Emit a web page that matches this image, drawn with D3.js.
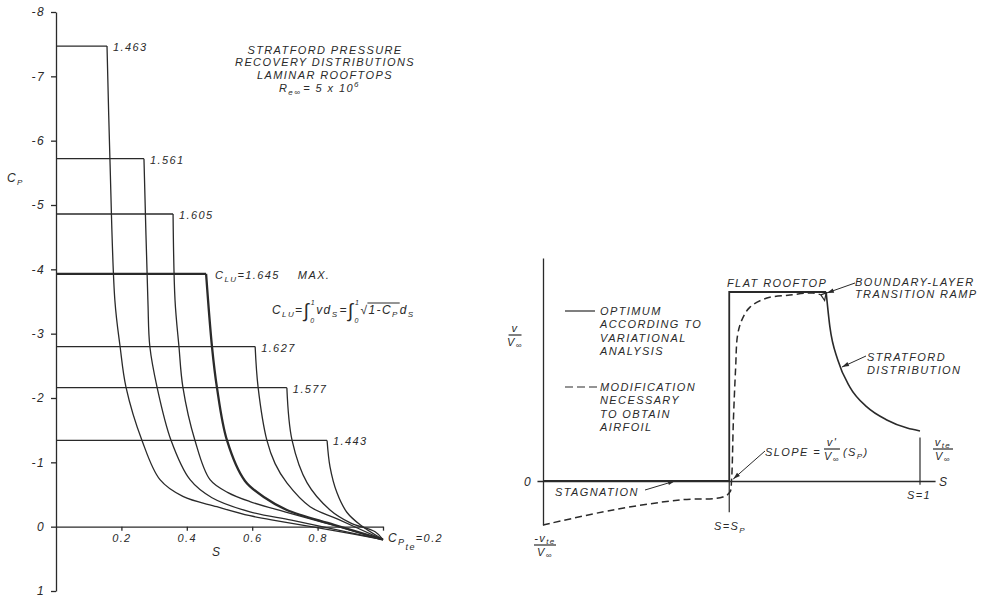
<!DOCTYPE html>
<html>
<head>
<meta charset="utf-8">
<script src="https://cdn.jsdelivr.net/npm/d3@7"></script>
<style>
body { margin: 0; background: #fff; }
svg text { font-family: "Liberation Sans", Arial, sans-serif; font-style: italic; font-size: 11px; letter-spacing: 1.4px; fill: #2a2a2a; }
.axis path, .axis line { stroke: #2a2a2a; stroke-width: 1.3; }
.curve { fill: none; stroke: #2a2a2a; stroke-width: 1.3; }
.curve.max { stroke-width: 2.3; }
</style>
</head>
<body>
<svg id="chart" width="986" height="598"></svg>
<script>
// ---- left chart: Stratford recovery distributions ----
var cpTicks = [-8, -7, -6, -5, -4, -3, -2, -1, 0, 1];
var sTicks = [0.2, 0.4, 0.6, 0.8, 1];
var cluValues = [1.463, 1.561, 1.605, 1.645, 1.627, 1.577, 1.443];
var rooftopCp = [-7.47, -5.72, -4.86, -3.93, -2.80, -2.16, -1.34];
var rooftopEnd = [0.156, 0.269, 0.358, 0.459, 0.609, 0.706, 0.829];
var maxIndex = 3;
var cpTe = 0.2;
// recovery points [s, Cp] after the rooftop corner
var recovery = [
  [[0.165, -5.70], [0.18, -3.52], [0.196, -2.80], [0.214, -2.17], [0.263, -1.34], [0.318, -0.73], [0.388, -0.47], [0.492, -0.31], [0.593, -0.17], [0.69, -0.08], [0.85, 0.06], [1, cpTe]],
  [[0.281, -3.52], [0.287, -2.80], [0.309, -2.17], [0.352, -1.34], [0.41, -0.73], [0.477, -0.45], [0.593, -0.23], [0.72, -0.10], [0.86, 0.05], [1, cpTe]],
  [[0.364, -3.52], [0.376, -2.80], [0.388, -2.17], [0.425, -1.34], [0.471, -0.73], [0.526, -0.53], [0.593, -0.39], [0.7, -0.23], [0.85, -0.02], [1, cpTe]],
  [[0.477, -2.80], [0.492, -2.17], [0.523, -1.34], [0.578, -0.71], [0.639, -0.45], [0.706, -0.26], [0.85, -0.03], [1, cpTe]],
  [[0.618, -2.17], [0.645, -1.34], [0.67, -0.98], [0.706, -0.68], [0.777, -0.31], [0.86, -0.12], [1, cpTe]],
  [[0.722, -1.34], [0.768, -0.68], [0.838, -0.26], [0.9, -0.06], [0.976, 0.08], [1, cpTe]],
  [[0.838, -0.93], [0.859, -0.53], [0.89, -0.22], [0.93, -0.03], [1, cpTe]]
];

// ---- right chart: velocity distribution sketch ----
var sp = 0.494;
var vTe = 0.265;
var optimum = [[0, 0], [sp, 0], [sp, 1], [0.751, 1]];
var stratford = [[0.751, 1], [0.761, 0.815], [0.782, 0.64], [0.814, 0.497], [0.859, 0.392], [0.912, 0.323], [0.966, 0.28], [1, vTe]];
var modified = [[0, -0.233], [0.186, -0.153], [0.363, -0.10], [0.477, -0.085], [0.496, -0.058], [0.5, 0], [0.505, 0.32], [0.511, 0.6], [0.516, 0.77], [0.527, 0.85], [0.549, 0.92], [0.594, 0.968], [0.655, 0.984], [0.716, 0.995], [0.737, 0.985]];

var svg = d3.select("#chart");

// scales
var xL = d3.scaleLinear().domain([0, 1]).range([56, 383]);
var yL = d3.scaleLinear().domain([-8, 1]).range([12, 591]);

// y axis
svg.append("g")
  .attr("class", "axis")
  .attr("transform", "translate(" + xL(0) + ",0)")
  .call(d3.axisLeft(yL).tickValues(cpTicks).tickFormat(String).tickSize(5).tickPadding(6).tickSizeOuter(0))
  .selectAll("text").style("font-size", "12px");

// x axis
svg.append("g")
  .attr("class", "axis")
  .attr("transform", "translate(0," + yL(0) + ")")
  .call(d3.axisBottom(xL).tickValues(sTicks).tickFormat(function(d) { return d === 1 ? "" : d3.format(".1f")(d); }).tickSize(4).tickPadding(4).tickSizeOuter(0))
  .selectAll("text").style("font-size", "11px");

var lineL = d3.line().x(function(d) { return xL(d[0]); }).y(function(d) { return yL(d[1]); });
var curveL = d3.line().x(function(d) { return xL(d[0]); }).y(function(d) { return yL(d[1]); }).curve(d3.curveCatmullRom.alpha(0.5));

// helper: run of text pieces laid side by side
function runText(g, x, y, parts) {
  var cx = x;
  parts.forEach(function(p) {
    var t = g.append("text").attr("x", cx).attr("y", y + (p.dy || 0)).style("font-size", (p.size || 11) + "px").text(p.t);
    p.x0 = cx;
    cx += t.node().getComputedTextLength() + (p.gap || 0);
    p.x1 = cx;
  });
  return parts;
}

cluValues.forEach(function(c, i) {
  var cls = "curve" + (i === maxIndex ? " max" : "");
  var corner = [rooftopEnd[i], rooftopCp[i]];
  svg.append("path").attr("class", cls).attr("d", lineL([[0, rooftopCp[i]], corner]));
  svg.append("path").attr("class", cls).attr("d", curveL([corner].concat(recovery[i])));
  var lx = xL(corner[0]), ly = yL(corner[1]);
  if (i === maxIndex) {
    runText(svg, lx + 9, ly + 5, [
      { t: "C" }, { t: "LU", dy: 3, size: 8 }, { t: "=" + c.toFixed(3), gap: 18 }, { t: "MAX." }
    ]);
  } else {
    svg.append("text").attr("x", lx + 6).attr("y", ly + 5).text(c.toFixed(3));
  }
});

// title
var title = ["STRATFORD PRESSURE", "RECOVERY DISTRIBUTIONS", "LAMINAR ROOFTOPS"];
svg.selectAll(".title").data(title).enter().append("text")
  .attr("class", "title")
  .attr("x", 325).attr("y", function(d, i) { return 54 + i * 12.3; })
  .attr("text-anchor", "middle")
  .text(function(d) { return d; });
runText(svg, 279, 92, [
  { t: "R" }, { t: "e\u221E", dy: 3, size: 8, gap: 2 }, { t: "= 5 x 10" }, { t: "6", dy: -5, size: 8 }
]);

// axis titles
runText(svg, 7, 182, [{ t: "C", size: 12 }, { t: "P", dy: 3, size: 8 }]);
svg.append("text").attr("x", 212).attr("y", 556).style("font-size", "12px").text("S");
runText(svg, xL(1) + 5, yL(cpTe) + 2, [
  { t: "C", size: 12 }, { t: "P", dy: 3, size: 9 }, { t: "te", dy: 8, size: 9 }, { t: "=0.2", size: 11 }
]);

// formula  C_LU = ∫ v ds = ∫ √(1-Cp) ds
var fy = 314;
var f = runText(svg, 272, fy, [
  { t: "C", size: 12 }, { t: "LU", dy: 3, size: 8 }, { t: "=", size: 12 }, { t: "\u222B", size: 19, dy: 3, gap: 6 },
  { t: "vd", size: 12 }, { t: "S", dy: 3, size: 8, gap: 1 }, { t: "=", size: 12 }, { t: "\u222B", size: 19, dy: 3, gap: 6 },
  { t: "\u221A", size: 12 }, { t: "1-C", size: 12 }, { t: "P", dy: 3, size: 8, gap: 1 }, { t: "d", size: 12 }, { t: "S", dy: 3, size: 8 }
]);
// integral limits sit in the gap after each sign
[f[3], f[7]].forEach(function(p) {
  svg.append("text").attr("x", p.x1 - 5.5).attr("y", fy - 9).style("font-size", "7px").style("letter-spacing", "0px").text("1");
  svg.append("text").attr("x", p.x1 - 6).attr("y", fy + 9).style("font-size", "7px").style("letter-spacing", "0px").text("0");
});
svg.append("line").attr("x1", f[8].x1 - 1).attr("x2", f[10].x1)
  .attr("y1", fy - 11).attr("y2", fy - 11).attr("stroke", "#2a2a2a").attr("stroke-width", 1);

// ---- right chart ----
var xR = d3.scaleLinear().domain([0, 1]).range([543, 920]);
var yR = d3.scaleLinear().domain([0, 1]).range([481, 292]);

svg.append("g").attr("class", "axis")
  .attr("transform", "translate(" + xR(0) + ",0)")
  .call(d3.axisLeft(yR.copy().domain([-0.233, 1.18]).range([yR(-0.233), yR(1.18)])).tickValues([]).tickSizeOuter(0));
svg.append("g").attr("class", "axis")
  .attr("transform", "translate(0," + yR(0) + ")")
  .call(d3.axisBottom(xR.copy().domain([-0.016, 1.04]).range([xR(-0.016), xR(1.04)])).tickValues([]).tickSizeOuter(0));

function vline(s, v0, v1) {
  svg.append("line").attr("x1", xR(s)).attr("x2", xR(s)).attr("y1", yR(v0)).attr("y2", yR(v1))
    .attr("stroke", "#2a2a2a").attr("stroke-width", 1.2);
}
vline(sp, -0.165, 0);
vline(1, -0.02, 0.23);

var lineR = d3.line().x(function(d) { return xR(d[0]); }).y(function(d) { return yR(d[1]); });
svg.append("path").attr("class", "curve").style("stroke-width", 1.8).attr("d", lineR(optimum));
svg.append("path").attr("class", "curve").style("stroke-width", 1.6)
  .attr("d", lineR.curve(d3.curveMonotoneX)(stratford));
svg.append("path").attr("class", "curve").style("stroke-width", 1.5).attr("stroke-dasharray", "7,4")
  .attr("d", d3.line().x(function(d) { return xR(d[0]); }).y(function(d) { return yR(d[1]); }).curve(d3.curveCatmullRom.alpha(0.5))(modified));
// transition ramp triangle
svg.append("path").attr("class", "curve").style("stroke-width", 1.2)
  .attr("d", lineR.curve(d3.curveLinear)([[0.737, 0.985], [0.751, 0.995], [0.747, 0.955], [0.737, 0.985]]));

// leaders with arrow heads
function leader(x1, y1, x2, y2) {
  svg.append("line").attr("x1", x1).attr("y1", y1).attr("x2", x2).attr("y2", y2)
    .attr("stroke", "#2a2a2a").attr("stroke-width", 1);
  var a = Math.atan2(y2 - y1, x2 - x1), L = 7, w = 2.2;
  var bx = x2 - L * Math.cos(a), by = y2 - L * Math.sin(a);
  svg.append("path").attr("fill", "#2a2a2a")
    .attr("d", "M" + x2 + "," + y2 + "L" + (bx - w * Math.sin(a)) + "," + (by + w * Math.cos(a)) +
      "L" + (bx + w * Math.sin(a)) + "," + (by - w * Math.cos(a)) + "Z");
}
leader(645, 490, xR(0.35), yR(0));
leader(765, 451, xR(sp) + 4, yR(0) - 2);
leader(855, 283, xR(0.753), yR(0.995));
leader(866, 356, xR(0.793), yR(0.603));

// fractions
function frac(cx, y, num, den, w) {
  var n = svg.append("text").attr("x", cx).attr("y", y - 3).attr("text-anchor", "middle");
  n.append("tspan").text(num[0]);
  if (num[1]) n.append("tspan").attr("dy", 2).style("font-size", "8px").text(num[1]);
  svg.append("line").attr("x1", cx - w / 2).attr("x2", cx + w / 2).attr("y1", y).attr("y2", y)
    .attr("stroke", "#2a2a2a").attr("stroke-width", 1.2);
  var d = svg.append("text").attr("x", cx).attr("y", y + 11).attr("text-anchor", "middle");
  d.append("tspan").text(den[0]);
  d.append("tspan").attr("dy", 2).style("font-size", "8px").text(den[1]);
}
frac(515, 335, ["v"], ["V", "\u221E"], 13);
frac(943, 449, ["v", "te"], ["V", "\u221E"], 20);
frac(545, 545, ["-v", "te"], ["V", "\u221E"], 22);

svg.append("text").attr("x", 524).attr("y", yR(0) + 5).style("font-size", "12px").text("0");
svg.append("text").attr("x", 939).attr("y", yR(0) + 5).style("font-size", "12px").text("S");
runText(svg, 714, 530, [{ t: "S=S" }, { t: "P", dy: 3, size: 8 }]);
svg.append("text").attr("x", 907).attr("y", 499).text("S=1");

// legend
var legendSolid = ["OPTIMUM", "ACCORDING TO", "VARIATIONAL", "ANALYSIS"];
var legendDash = ["MODIFICATION", "NECESSARY", "TO OBTAIN", "AIRFOIL"];
svg.append("line").attr("x1", 565).attr("x2", 595).attr("y1", 311).attr("y2", 311).attr("stroke", "#2a2a2a").attr("stroke-width", 1.2);
svg.append("line").attr("x1", 565).attr("x2", 598).attr("y1", 387).attr("y2", 387).attr("stroke", "#2a2a2a").attr("stroke-width", 1.2).attr("stroke-dasharray", "8,4");
legendSolid.forEach(function(t, i) { svg.append("text").attr("x", 600).attr("y", 315 + i * 13.4).text(t); });
legendDash.forEach(function(t, i) { svg.append("text").attr("x", 600).attr("y", 391 + i * 13.4).text(t); });

// annotations
svg.append("text").attr("x", 727).attr("y", 287).text("FLAT ROOFTOP");
svg.append("text").attr("x", 855).attr("y", 286).text("BOUNDARY-LAYER");
svg.append("text").attr("x", 855).attr("y", 298).text("TRANSITION RAMP");
svg.append("text").attr("x", 867).attr("y", 361).text("STRATFORD");
svg.append("text").attr("x", 867).attr("y", 374).text("DISTRIBUTION");
svg.append("text").attr("x", 555).attr("y", 496).text("STAGNATION");
var sl = runText(svg, 765, 456, [{ t: "SLOPE =", gap: 2 }]);
frac(sl[0].x1 + 9, 449, ["v'"], ["V", "\u221E"], 16);
runText(svg, sl[0].x1 + 20, 456, [{ t: "(S" }, { t: "P", dy: 3, size: 8 }, { t: ")" }]);
</script>
</body>
</html>
